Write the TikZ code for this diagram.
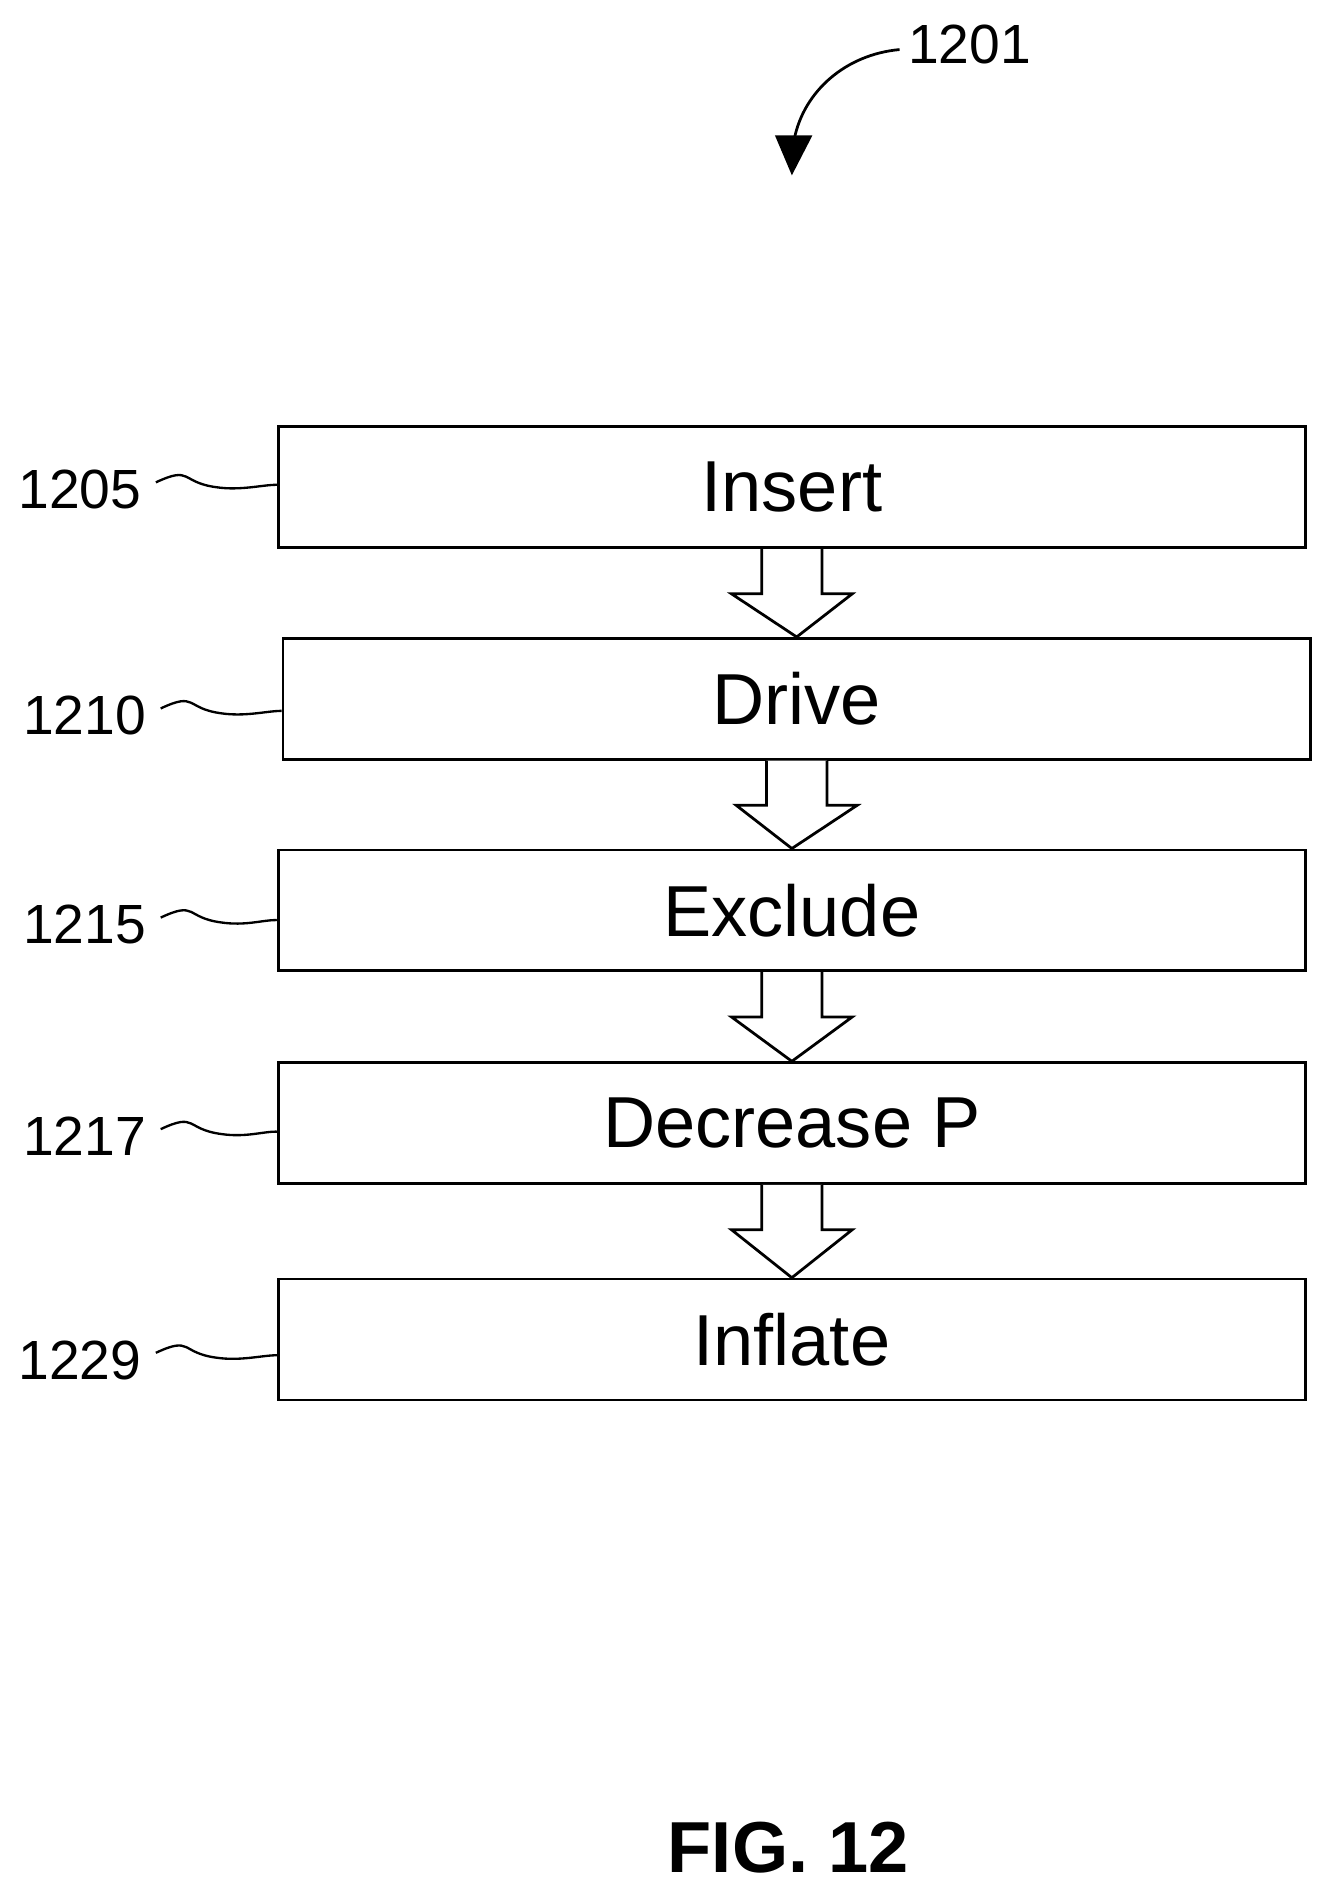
\documentclass[tikz,border=0pt]{standalone}
\usepackage{fontspec}
\setmainfont{Liberation Sans}
\usetikzlibrary{calc}
\begin{document}
\begin{tikzpicture}[x=0.02cm,y=-0.02cm,
  box/.style={draw,line width=1.3pt,minimum width=17cm,minimum height=2cm,inner sep=0pt,font=\fontsize{34}{40}\selectfont},
  lab/.style={font=\fontsize{26}{30}\selectfont,inner sep=1pt},
  wave/.style={line width=1.1pt},
  hol/.style={draw,line width=1.3pt,fill=white}]
\useasboundingbox (0,0) rectangle (1100,1565);
\node[box] (b1) at (655,403) {Insert};
\node[box] (b2) at (659,578) {Drive};
\node[box] (b3) at (655,753) {Exclude};
\node[box] (b4) at (655,929) {Decrease P};
\node[box] (b5) at (655,1108) {Inflate};
\foreach \y/\t/\n/\x in {405/1205/1/66,592/1210/2/70,765/1215/3/70,940/1217/4/70,1125/1229/5/66}{
  \node[lab] (l\n) at (\x,\y) {\t};
  \draw[wave] (l\n.east) ++(10,-6) .. controls +(30,-14) and +(-30,-4) .. ++(50,4) .. controls +(20,3) and +(-12,0) .. (b\n.west|-0,\y-4);
}
\foreach \a/\b in {b1/b2,b2/b3,b3/b4,b4/b5}{
  \path (\a.south) coordinate (s\a) (\b.north) coordinate (t\a);
  \draw[hol] ($(s\a)+(-25,0)$) -- ($(s\a)+(-25,37)$) -- ($(s\a)+(-50,37)$) -- (t\a) -- ($(s\a)+(50,37)$) -- ($(s\a)+(25,37)$) -- ($(s\a)+(25,0)$);
}
\node[lab] (n1201) at (802,37) {1201};
\coordinate (tip) at (655,145);
\draw[line width=1.3pt] (n1201.west) ++(-5,4) .. controls (700,45) and (665,75) .. (657,115);
\fill (tip) -- (641,112) -- (672,112) -- cycle;
\node[font=\bfseries\fontsize{34}{40}\selectfont] (fig) at (652,1528) {FIG. 12};
\end{tikzpicture}
\end{document}
